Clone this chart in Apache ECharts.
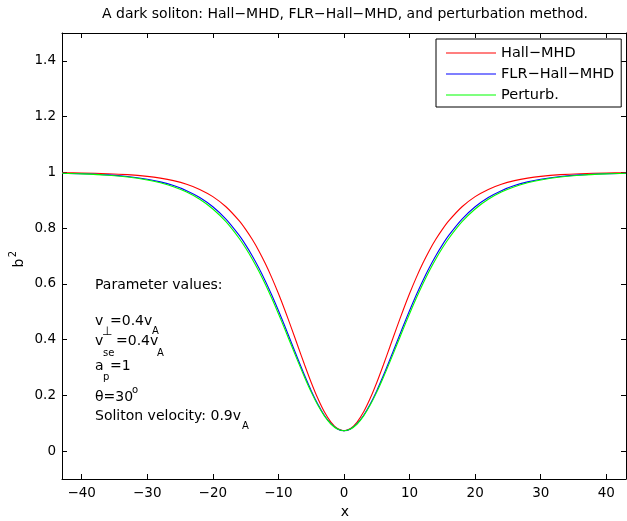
<!DOCTYPE html>
<html><head><meta charset="utf-8">
<script src="https://cdn.jsdelivr.net/npm/echarts@6/dist/echarts.min.js"></script>
<style>html,body{margin:0;padding:0;background:#fff}#c{width:627px;height:521px}</style>
</head><body><div id="c"></div>
<script>
// ---- data ----
const xValues = [-43,-40,-36,-33,-30,-28,-26,-24,-22,-20,-18,-16,-15,-14,-13,-12,-11,-10,-9,-8,-7,-6,-5,-4,-3,-2,-1,
  0,1,2,3,4,5,6,7,8,9,10,11,12,13,14,15,16,18,20,22,24,26,28,30,33,36,40,43];
const hallMHD = [0.9987,0.9978,0.9953,0.9918,0.9858,0.9795,0.9704,0.9575,0.9390,0.9130,0.8767,0.8268,0.7956,0.7598,0.7190,0.6729,0.6216,0.5652,0.5045,0.4404,0.3746,0.3091,0.2464,0.1894,0.1410,0.1041,0.0809,
  0.073,0.0809,0.1041,0.1410,0.1894,0.2464,0.3091,0.3746,0.4404,0.5045,0.5652,0.6216,0.6729,0.7190,0.7598,0.7956,0.8268,0.8767,0.9130,0.9390,0.9575,0.9704,0.9795,0.9858,0.9918,0.9953,0.9978,0.9987];
const flrHallMHD = [0.9971,0.9953,0.9909,0.9850,0.9753,0.9658,0.9526,0.9345,0.9099,0.8767,0.8325,0.7747,0.7400,0.7012,0.6581,0.6107,0.5593,0.5045,0.4470,0.3878,0.3286,0.2710,0.2170,0.1688,0.1286,0.0983,0.0794,
  0.073,0.0794,0.0983,0.1286,0.1688,0.2170,0.2710,0.3286,0.3878,0.4470,0.5045,0.5593,0.6107,0.6581,0.7012,0.7400,0.7747,0.8325,0.8767,0.9099,0.9345,0.9526,0.9658,0.9753,0.9850,0.9909,0.9953,0.9971];
const perturb = [0.9967,0.9946,0.9898,0.9833,0.9728,0.9625,0.9484,0.9292,0.9034,0.8687,0.8230,0.7638,0.7285,0.6892,0.6459,0.5983,0.5472,0.4928,0.4361,0.3779,0.3201,0.2640,0.2117,0.1651,0.1264,0.0973,0.0791,
  0.073,0.0791,0.0973,0.1264,0.1651,0.2117,0.2640,0.3201,0.3779,0.4361,0.4928,0.5472,0.5983,0.6459,0.6892,0.7285,0.7638,0.8230,0.8687,0.9034,0.9292,0.9484,0.9625,0.9728,0.9833,0.9898,0.9946,0.9967];
const xTicks = [-40,-30,-20,-10,0,10,20,30,40];
const yTicks = [0,0.2,0.4,0.6,0.8,1,1.2,1.4];
const seriesNames = ['Hall−MHD','FLR−Hall−MHD','Perturb.'];
const seriesColors = ['#ff0000','#0000ff','#00ff00'];
const titleText = 'A dark soliton: Hall−MHD, FLR−Hall−MHD, and perturbation method.';

// ---- chart ----
const FONT = 'DejaVu Sans';
const chart = echarts.init(document.getElementById('c'), null, {renderer:'canvas'});
function pairs(ys){ return xValues.map((x,i)=>[x, ys[i]]); }
function xAxisCfg(pos, showLabel){
  return {type:'value', position:pos, min:-43, max:43,
    axisLine:{show:true, onZero:false, lineStyle:{color:'#000', width:1}},
    axisTick:{show:true, inside:true, length:5, customValues:xTicks, lineStyle:{color:'#000'}},
    axisLabel:{show:showLabel, customValues:xTicks, color:'#000', fontFamily:FONT, fontSize:13.5, margin:7,
      formatter:v=>String(v).replace('-','−')},
    splitLine:{show:false}};
}
function yAxisCfg(pos, showLabel){
  return {type:'value', position:pos, min:-0.1, max:1.5,
    axisLine:{show:true, onZero:false, lineStyle:{color:'#000', width:1}},
    axisTick:{show:true, inside:true, length:5, customValues:yTicks, lineStyle:{color:'#000'}},
    axisLabel:{show:showLabel, customValues:yTicks, color:'#000', fontFamily:FONT, fontSize:13.5, margin:6,
      formatter:v=>String(+(+v).toFixed(1))},
    splitLine:{show:false}};
}
const main = 14, sub = 10;
// annotation pieces: [text, x, baselineY, fontSize]
const notes = [
  ['Parameter values:',95,290,main],
  ['v',95,326,main],['⊥',102,335,12],['=0.4v',110,326,main],['A',152,334,sub],
  ['v',95,346,main],['se',103,356,sub],['=0.4v',116,346,main],['A',157,356,sub],
  ['a',95,371,main],['p',103,380,sub],['=1',110,371,main],
  ['θ=30',95,402,main],['o',132,393,sub],
  ['Soliton velocity: 0.9v',95,421,main],['A',242,429,sub]
];
const graphics = notes.map(n=>({type:'text', x:n[1], y:n[2]-0.3*n[3],
  style:{text:n[0], font:n[3]+'px "'+FONT+'"', fill:'#000', align:'left', verticalAlign:'middle'}}));
graphics.push({type:'text', x:345, y:512, style:{text:'x', font:'14px "'+FONT+'"', fill:'#000', align:'center', verticalAlign:'middle'}});
graphics.push({type:'text', x:19, y:263, rotation:Math.PI/2, style:{text:'b', font:'14px "'+FONT+'"', fill:'#000', align:'center', verticalAlign:'middle'}});
graphics.push({type:'text', x:13, y:254, rotation:Math.PI/2, style:{text:'2', font:'10px "'+FONT+'"', fill:'#000', align:'center', verticalAlign:'middle'}});
graphics.push({type:'text', x:345, y:14, style:{text:titleText, font:'14px "'+FONT+'"', fill:'#000', align:'center', verticalAlign:'middle'}});

chart.setOption({
  animation:false,
  backgroundColor:'#fff',
  grid:{left:62, right:1, top:33, bottom:42, containLabel:false},
  xAxis:[xAxisCfg('bottom', true), xAxisCfg('top', false)],
  yAxis:[yAxisCfg('left', true), yAxisCfg('right', false)],
  legend:{orient:'vertical', left:436, top:39, itemWidth:50, itemHeight:1, itemGap:5, icon:'rect',
    padding:[6,7,4,10], borderColor:'#000', borderWidth:1, backgroundColor:'#fff', borderRadius:0,
    textStyle:{fontFamily:FONT, fontSize:14.5, color:'#000', lineHeight:16},
    data:seriesNames.map(n=>({name:n, icon:'rect'}))},
  series:[hallMHD, flrHallMHD, perturb].map((d,i)=>({
    name:seriesNames[i], type:'line', xAxisIndex:0, yAxisIndex:0, data:pairs(d),
    symbol:'none', showSymbol:false, smooth:0.3, color:seriesColors[i],
    lineStyle:{color:seriesColors[i], width:1.1}
  })),
  graphic:graphics
});
</script></body></html>
